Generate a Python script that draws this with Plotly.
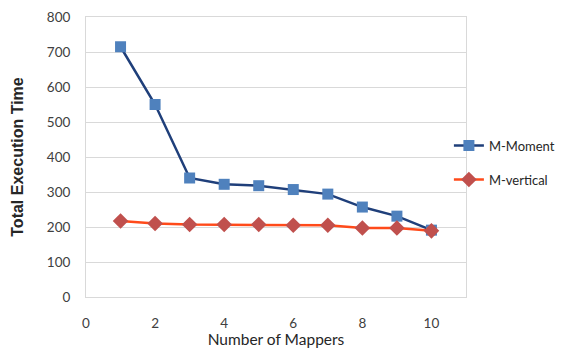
import plotly.graph_objects as go

mappers = [1, 2, 3, 4, 5, 6, 7, 8, 9, 10]
m_moment = [715, 550, 340, 322, 318, 307, 294, 257, 231, 191]
m_vertical = [217, 210, 207, 207, 207, 205, 205, 197, 197, 189]
x_ticks = [0, 2, 4, 6, 8, 10]
y_ticks = [0, 100, 200, 300, 400, 500, 600, 700, 800]

fig = go.Figure()
fig.add_trace(go.Scatter(
    x=mappers, y=m_moment, name="M-Moment", mode="lines+markers",
    legendgroup="a",
    line=dict(color="#1F3F7A", width=2.5),
    marker=dict(symbol="square", size=11, color="#4F81BD"),
))
fig.add_trace(go.Scatter(
    x=mappers, y=m_vertical, name="M-vertical", mode="lines+markers",
    legendgroup="b",
    line=dict(color="#FF4A1A", width=2.5),
    marker=dict(symbol="diamond", size=12, color="#C0504D"),
))

font = "Lato, Carlito, 'Open Sans', sans-serif"
fig.update_layout(
    width=555, height=340,
    margin=dict(l=78, r=97, t=9, b=51, autoexpand=False),
    paper_bgcolor="white", plot_bgcolor="white",
    font=dict(family=font, size=13.5, color="#404040"),
    showlegend=True,
    legend=dict(x=0.955, xanchor="left", y=0.48, yanchor="middle",
                font=dict(size=13, color="#262626"),
                itemwidth=30, tracegroupgap=14, traceorder="grouped",
                bgcolor="rgba(0,0,0,0)"),
    xaxis=dict(
        range=[0, 11], tickvals=x_ticks, showgrid=False, zeroline=False,
        showline=True, mirror=True, linecolor="#D9D9D9", linewidth=1,
        ticks="", ticklabelstandoff=14, automargin=False,
        title=dict(text="Number of Mappers", font=dict(size=15.5, color="#262626"), standoff=1),
    ),
    yaxis=dict(
        range=[0, 800], tickvals=y_ticks, showgrid=True, gridcolor="#D9D9D9",
        zeroline=False, showline=True, mirror=True, linecolor="#D9D9D9", linewidth=1,
        ticks="", ticklabelstandoff=12, automargin=False,
        title=dict(text="<b>Total Execution Time</b>",
                   font=dict(family="'Liberation Sans', Arial, sans-serif", size=16, color="#262626"),
                   standoff=19),
    ),
)
fig.write_html("out.html")
